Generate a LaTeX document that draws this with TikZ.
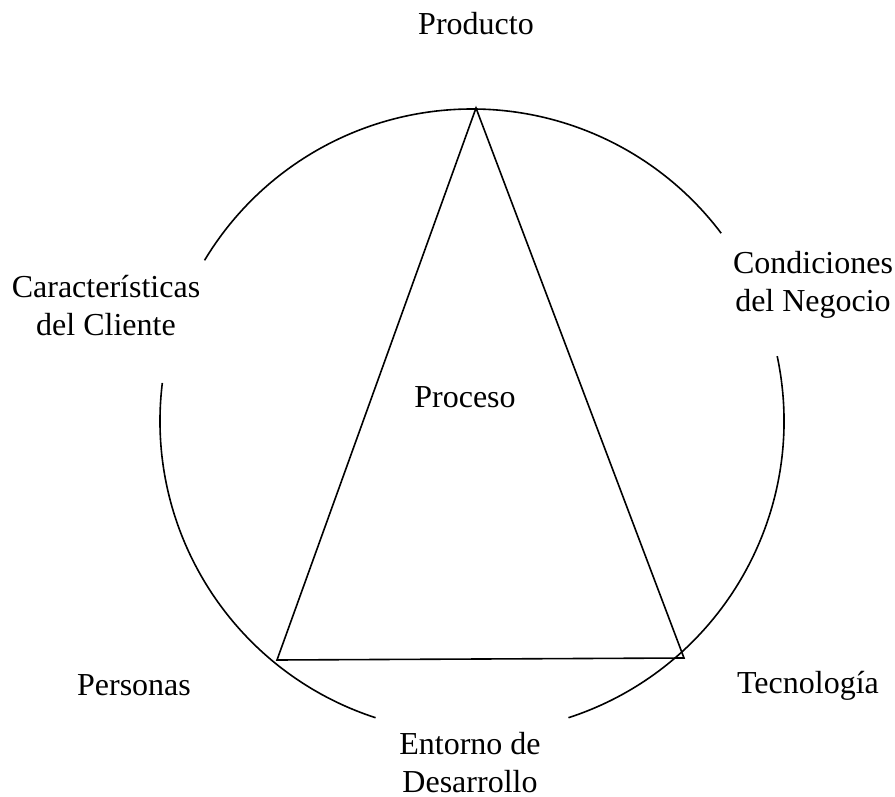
\documentclass[tikz,border=0pt]{standalone}
\usepackage{fontspec}
\setmainfont{Liberation Serif}
\begin{document}
\begin{tikzpicture}[x=0.5pt,y=-0.5pt,
  line/.style={line width=0.8pt,black},
  lbl/.style={font=\fontsize{16}{19}\selectfont,inner sep=0pt,anchor=base,align=center}]
\useasboundingbox (0,0) rectangle (895,797);
\coordinate (c) at (472,421);
\coordinate (apex) at (476,108);
\coordinate (bl) at (277,660);
\coordinate (br) at (684,658);
% circle arcs
\draw[line] ([shift={(-149:312)}]c) arc[start angle=-149,end angle=-37,radius=312];
\draw[line] ([shift={(-12:312)}]c) arc[start angle=-12,end angle=72,radius=312];
\draw[line] ([shift={(108:312)}]c) arc[start angle=108,end angle=187,radius=312];
% triangle
\draw[line,line join=miter] (apex) -- (bl) -- (br) -- cycle;
% labels (base = baseline of the last line)
\node[lbl] (prod) at (476,35) {Producto};
\node[lbl] (cli) at (106,335) {Características\\del Cliente};
\node[lbl] (neg) at (813,311) {Condiciones\\del Negocio};
\node[lbl] (proc) at (465,407) {Proceso};
\node[lbl] (pers) at (134,695) {Personas};
\node[lbl] (tec) at (808,693) {Tecnología};
\node[lbl] (ent) at (470,792) {Entorno de\\Desarrollo};
\end{tikzpicture}
\end{document}
